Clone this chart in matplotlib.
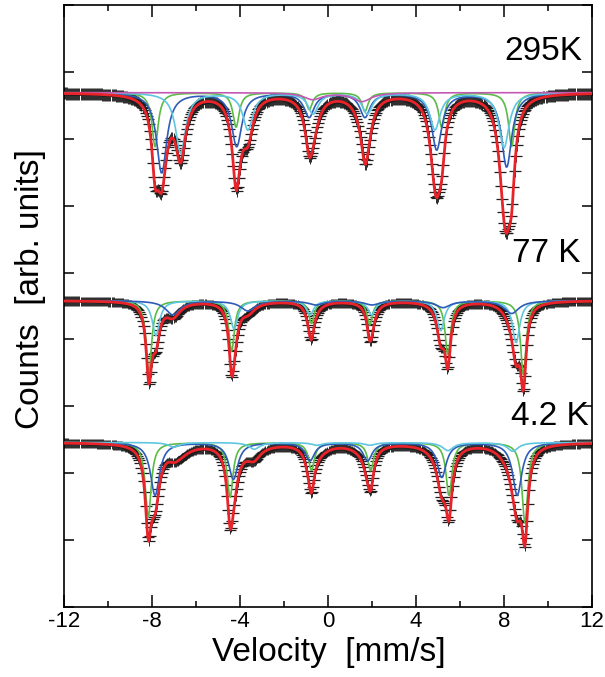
import numpy as np
import matplotlib
matplotlib.use("Agg")
import matplotlib.pyplot as plt
from matplotlib.ticker import MultipleLocator

plt.rcParams['font.family'] = ['Liberation Sans', 'DejaVu Sans']
plt.rcParams['axes.unicode_minus'] = False

# velocity channels of the spectrometer
velocity = np.linspace(-12, 12, 512)

# baselines of the three stacked spectra (arb. units)
base_295 = 7.69
base_77 = 4.58
base_42 = 2.46

# statistical error of the counts
err_295 = 0.09
err_77 = 0.07
err_42 = 0.07

# 295 K sub-spectra: line positions [mm/s], depths, half widths
pos_295_green = [-7.86, -4.18, -0.85, 1.68, 5.17, 8.35]
dep_295_green = [0.81, 0.52, 0.25, 0.28, 0.52, 0.81]
hw_295_green = 0.17
pos_295_blue = [-7.56, -4.15, -0.86, 1.68, 4.94, 8.12]
dep_295_blue = [1.20, 0.80, 0.36, 0.36, 0.85, 1.11]
hw_295_blue = 0.28
pos_295_cyan = [-6.70, -3.64, -0.68, 1.78, 4.86, 8.00]
dep_295_cyan = [0.90, 0.55, 0.31, 0.31, 0.55, 0.82]
hw_295_cyan = 0.28
pos_295_magenta = [-0.70, 1.55]
dep_295_magenta = [0.10, 0.13]
hw_295_magenta = 0.5

# 77 K sub-spectra
pos_77_green = [-8.14, -4.38, -0.75, 1.90, 5.45, 8.88]
dep_77_green = [1.08, 0.76, 0.34, 0.36, 0.82, 1.12]
hw_77_green = 0.15
pos_77_cyan = [-7.82, -4.27, -0.82, 1.98, 5.12, 8.55]
dep_77_cyan = [0.52, 0.42, 0.21, 0.21, 0.45, 0.63]
hw_77_cyan = 0.20
pos_77_blue = [-7.05, -3.64, -0.55, 2.00, 5.23, 8.35]
dep_77_blue = [0.21, 0.15, 0.06, 0.06, 0.10, 0.19]
hw_77_blue = 0.40

# 4.2 K sub-spectra
pos_42_green = [-8.17, -4.45, -0.75, 1.94, 5.50, 8.95]
dep_42_green = [1.12, 0.82, 0.42, 0.42, 0.80, 1.20]
hw_42_green = 0.16
pos_42_blue = [-7.86, -4.30, -0.82, 1.80, 5.17, 8.60]
dep_42_blue = [0.79, 0.55, 0.27, 0.27, 0.52, 0.79]
hw_42_blue = 0.25
pos_42_cyan = [-7.00, -3.35, -0.50, 1.90, 5.45, 8.40]
dep_42_cyan = [0.07, 0.10, 0.04, 0.04, 0.12, 0.13]
hw_42_cyan = 0.30
# broad contribution only contained in the total fit
pos_42_broad = [-6.80, -3.50, -0.30, 1.50, 5.00, 8.20]
dep_42_broad = [0.15, 0.12, 0.06, 0.06, 0.09, 0.12]
hw_42_broad = 0.6

temps = ['295K', '77 K', '4.2 K']

GREEN = '#5bbb47'
BLUE = '#2d5cb8'
CYAN = '#5fc6e0'
MAGENTA = '#c25ab4'
RED = '#e8242a'


def absorption(v, pos, dep, hw):
    out = np.zeros_like(v)
    for p, d in zip(pos, dep):
        out += d / (1 + ((v - p) / hw) ** 2)
    return out


spectra = [
    (base_295, err_295, [(pos_295_green, dep_295_green, hw_295_green, GREEN),
                         (pos_295_blue, dep_295_blue, hw_295_blue, BLUE),
                         (pos_295_cyan, dep_295_cyan, hw_295_cyan, CYAN),
                         (pos_295_magenta, dep_295_magenta, hw_295_magenta, MAGENTA)], None),
    (base_77, err_77, [(pos_77_green, dep_77_green, hw_77_green, GREEN),
                       (pos_77_cyan, dep_77_cyan, hw_77_cyan, CYAN),
                       (pos_77_blue, dep_77_blue, hw_77_blue, BLUE)], None),
    (base_42, err_42, [(pos_42_green, dep_42_green, hw_42_green, GREEN),
                       (pos_42_blue, dep_42_blue, hw_42_blue, BLUE),
                       (pos_42_cyan, dep_42_cyan, hw_42_cyan, CYAN)],
     (pos_42_broad, dep_42_broad, hw_42_broad)),
]

fig = plt.figure(figsize=(6.05, 6.77), dpi=100)
ax = fig.add_axes([64 / 605, 1 - 607 / 677, 528 / 605, 602 / 677])

for base, err, comps, extra in spectra:
    total = np.full_like(velocity, base)
    for pos, dep, hw, col in comps:
        total -= absorption(velocity, pos, dep, hw)
    if extra is not None:
        total -= absorption(velocity, *extra)

    # measured counts with their error bars
    ax.errorbar(velocity, total, yerr=err, fmt='_', ms=8.5, mew=0.9,
                color='#1e1e1e', ecolor='#2a2a2a', elinewidth=0.7, zorder=2)
    for pos, dep, hw, col in comps:
        ax.plot(velocity, base - absorption(velocity, pos, dep, hw),
                color=col, lw=1.2, zorder=3)
    ax.plot(velocity, total, color=RED, lw=2.0, zorder=4)

ax.set_xlim(-12, 12)
ax.set_ylim(0, 9)
ax.xaxis.set_major_locator(MultipleLocator(4))
ax.xaxis.set_minor_locator(MultipleLocator(2))
ax.yaxis.set_major_locator(MultipleLocator(1))
ax.tick_params(which='both', direction='in', top=True, right=True, width=1.1)
ax.tick_params(axis='x', which='major', length=8.5, labelsize=16, pad=3)
ax.tick_params(axis='x', which='minor', length=4.3)
ax.tick_params(axis='y', which='major', length=7, labelleft=False)
for sp in ax.spines.values():
    sp.set_linewidth(1.2)

ax.text(0.981, 0.9086, temps[0], transform=ax.transAxes, ha='right', va='baseline', fontsize=24)
ax.text(0.979, 0.573, temps[1], transform=ax.transAxes, ha='right', va='baseline', fontsize=24)
ax.text(0.994, 0.302, temps[2], transform=ax.transAxes, ha='right', va='baseline', fontsize=24)

fig.text(0.544, 1 - 661 / 677, 'Velocity  [mm/s]', ha='center', va='baseline', fontsize=24)
fig.text(0.05, 1 - 289 / 677, 'Counts  [arb. units]', ha='center', va='center',
         rotation=90, fontsize=24)

fig.savefig('out.png', dpi=100)
